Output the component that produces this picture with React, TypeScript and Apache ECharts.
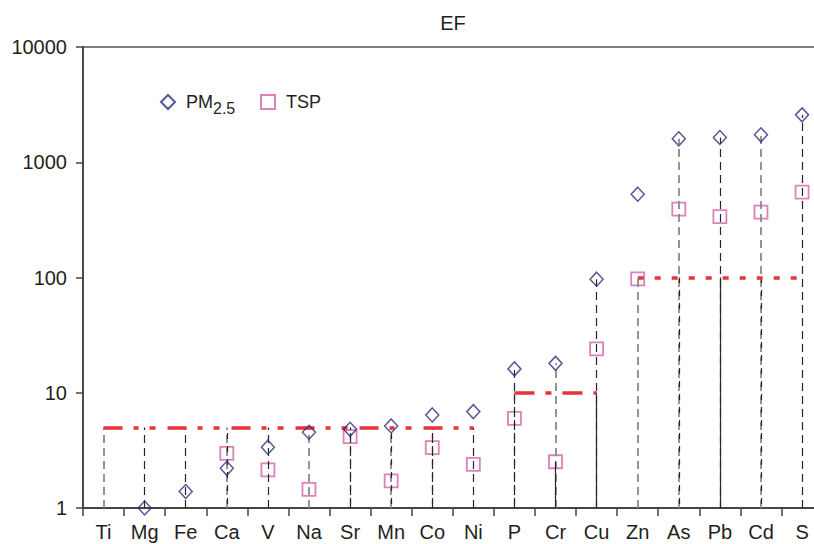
import React, { useEffect, useRef } from "react";
import * as echarts from "echarts";

const categories = ["Ti", "Mg", "Fe", "Ca", "V", "Na", "Sr", "Mn", "Co", "Ni", "P", "Cr", "Cu", "Zn", "As", "Pb", "Cd", "S"];
const pm25: (number | null)[] = [null, 1.0, 1.39, 2.21, 3.37, 4.54, 4.82, 5.15, 6.42, 6.86, 16.1, 18.0, 96.7, 528, 1597, 1640, 1730, 2578];
const tsp: (number | null)[] = [null, null, null, 2.98, 2.14, 1.45, 4.16, 1.72, 3.34, 2.39, 6.0, 2.52, 24.0, 97.2, 392, 338, 369, 550];
// top of the dashed drop line of each category
const dropTop = [5, 5, 5, 5, 5, 5, 5, 5, 5, 5, 16.1, 18.0, 96.7, 100, 1597, 1640, 1730, 2578];
// top of the overlaid lower segment (null = none)
const baseTop: (number | null)[] = [null, null, null, 5, null, null, 5, 5, 5, null, 10, 2.52, 10, null, 100, 100, 100, null];
// threshold groups: [fromIndex, toIndex, value]
const thresholds: [number, number, number][] = [
  [0, 9, 5],
  [10, 12, 10],
  [13, 17, 100],
];
const yTicks = [1, 10, 100, 1000, 10000];

// styles (kept apart from the data)
const GREY = "#8a8a8a";
const BLACK = "#262626";
const dropColor = [GREY, BLACK, BLACK, GREY, BLACK, GREY, BLACK, GREY, BLACK, BLACK, BLACK, GREY, BLACK, GREY, GREY, BLACK, GREY, BLACK];
const baseKind = ["", "", "", "dense", "", "", "dense", "dense", "dense", "", "dense", "solid", "solid", "", "dense", "solid", "dense", ""];
const redDash = [
  [19, 11, 5, 11, 6, 12],
  [20, 11, 6, 11],
  [6, 11],
];

const FONT = "'Liberation Sans', Arial, sans-serif";
const TEXT = "#231f20";

export default function App() {
  const ref = useRef<HTMLDivElement>(null);
  useEffect(() => {
    if (!ref.current) return;
    const chart = echarts.init(ref.current, null, { renderer: "svg" });

    const dropData: any[] = categories.map((c, i) => [
      {
        coord: [i, 1],
        lineStyle: {
          color: dropColor[i],
          width: dropColor[i] === GREY ? 1.8 : 1.2,
          type: [8, 5],
        },
      },
      { coord: [i, dropTop[i]] },
    ]);
    const baseData: any[] = [];
    categories.forEach((c, i) => {
      const t = baseTop[i];
      if (t == null) return;
      baseData.push([
        {
          coord: [i, 1],
          lineStyle: {
            color: BLACK,
            width: 1.2,
            type: baseKind[i] === "solid" ? "solid" : [6, 7],
            dashOffset: 9,
          },
        },
        { coord: [i, t] },
      ]);
    });
    const redData: any[] = thresholds.map(([a, b, v], k) => [
      {
        coord: [a, v],
        lineStyle: { color: "#e8333b", width: 3.5, type: redDash[k] },
      },
      { coord: [b, v] },
    ]);

    const markBase = {
      symbol: ["none", "none"],
      silent: true,
      label: { show: false },
      emphasis: { disabled: true },
      animation: false,
    };

    const legendCommon = {
      top: 93,
      padding: 0,
      itemWidth: 14,
      itemHeight: 14,
      textStyle: { fontFamily: FONT, fontSize: 18, color: TEXT, padding: [0, 0, 0, 6] },
    };

    chart.setOption({
      animation: false,
      grid: {
        left: 83,
        top: 47,
        width: 739.6,
        height: 461,
        show: true,
        borderColor: "#555",
        borderWidth: 1.5,
        backgroundColor: "transparent",
      },
      graphic: [
        {
          type: "text",
          x: 453,
          y: 23,
          style: {
            text: "EF",
            fontSize: 20,
            fontFamily: FONT,
            fill: TEXT,
            align: "center",
            verticalAlign: "middle",
          },
        },
        {
          type: "text",
          x: 213,
          y: 108,
          style: {
            text: "2.5",
            fontSize: 16,
            fontFamily: FONT,
            fill: TEXT,
            align: "left",
            verticalAlign: "middle",
          },
        },
      ],
      legend: [
        { ...legendCommon, left: 160, data: ["PM2.5"], formatter: () => "PM" },
        { ...legendCommon, left: 260, data: ["TSP"] },
      ],
      xAxis: {
        type: "category",
        data: categories,
        boundaryGap: true,
        axisLine: { lineStyle: { color: "#444", width: 1.8 } },
        axisTick: { show: true, length: 8, interval: 0, lineStyle: { color: "#444", width: 1.5 } },
        axisLabel: { interval: 0, margin: 14, fontSize: 20, fontFamily: FONT, color: TEXT },
        splitLine: { show: false },
      },
      yAxis: {
        type: "log",
        logBase: 10,
        min: 1,
        max: 10000,
        axisLine: { show: true, lineStyle: { color: "#444", width: 1.8 } },
        axisTick: { show: true, length: 7, lineStyle: { color: "#444", width: 1.5 } },
        minorTick: { show: false },
        axisLabel: {
          margin: 16,
          fontSize: 20,
          fontFamily: FONT,
          color: TEXT,
          formatter: (v: number) => (yTicks.includes(Math.round(v)) ? String(Math.round(v)) : ""),
        },
        splitLine: { show: false },
      },
      series: [
        {
          name: "drop",
          type: "line",
          data: [],
          z: 1,
          markLine: { ...markBase, data: dropData },
        },
        {
          name: "base",
          type: "line",
          data: [],
          z: 2,
          markLine: { ...markBase, data: baseData },
        },
        {
          name: "threshold",
          type: "line",
          data: [],
          z: 3,
          markLine: { ...markBase, data: redData },
        },
        {
          name: "PM2.5",
          type: "scatter",
          symbol: "diamond",
          symbolSize: [13, 14],
          clip: false,
          z: 5,
          itemStyle: { color: "rgba(255,255,255,0)", borderColor: "#2d2a7c", borderWidth: 1.5 },
          data: pm25.map((v, i) => (v == null ? [i, null] : [i, v])),
        },
        {
          name: "TSP",
          type: "scatter",
          symbol: "rect",
          symbolSize: 13,
          clip: false,
          z: 4,
          itemStyle: { color: "rgba(255,255,255,0)", borderColor: "#d562a8", borderWidth: 1.8 },
          data: tsp.map((v, i) => (v == null ? [i, null] : [i, v])),
        },
      ],
    });
    return () => chart.dispose();
  }, []);
  return (
    <div style={{ position: "absolute", left: 0, top: 0, width: 814, height: 544, overflow: "hidden" }}>
      <div ref={ref} style={{ position: "absolute", left: 0, top: 0, width: 830, height: 544 }} />
    </div>
  );
}
